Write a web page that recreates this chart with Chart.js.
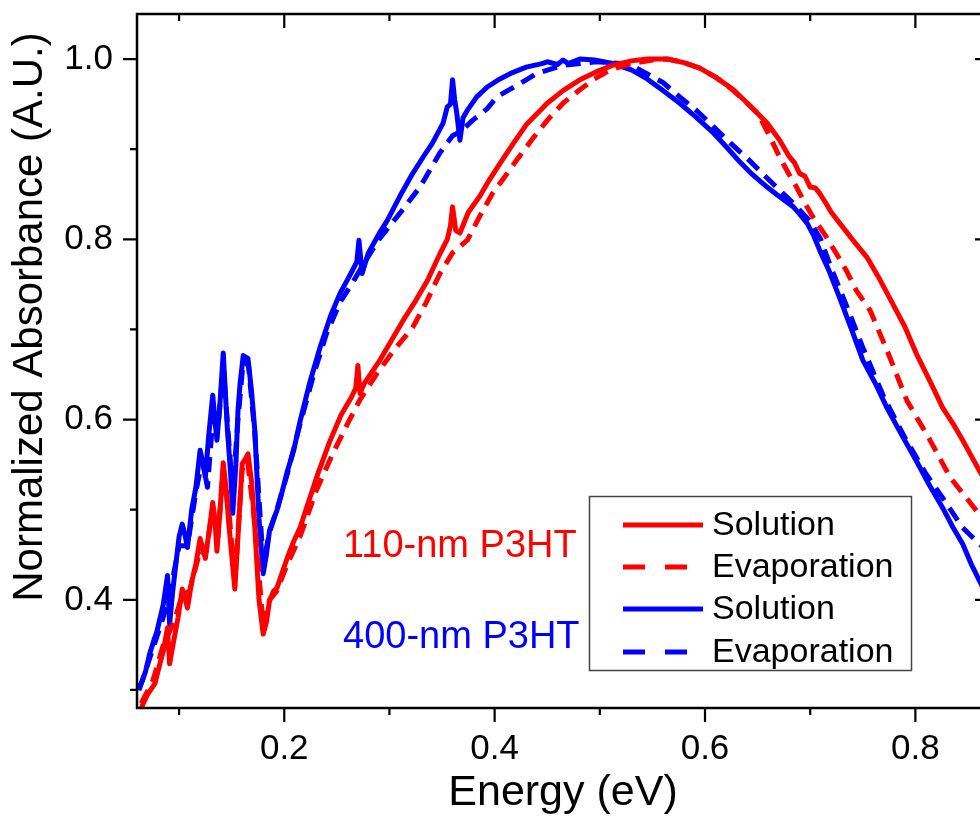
<!DOCTYPE html>
<html><head><meta charset="utf-8">
<script src="https://cdn.jsdelivr.net/npm/chart.js@4.4.1/dist/chart.umd.min.js"></script>
<style>
html,body{margin:0;padding:0;background:#fff;overflow:hidden;width:980px;height:821px;}
#wrap{width:1000px;height:821px;}
canvas{display:block;}
</style></head><body>
<div id="wrap"><canvas id="c" width="1000" height="821"></canvas></div>
<script>
// ---- data ----
const energy110Sol = [0.064,0.070,0.077,0.082,0.085,0.089,0.091,0.095,0.099,0.103,0.106,0.108,0.112,0.116,0.120,0.123,0.125,0.129,0.132,0.134,0.136,0.139,0.142,0.145,0.147,0.150,0.153,0.156,0.160,0.163,0.1655,0.169,0.172,0.176,0.180,0.183,0.186,0.190,0.193,0.198,0.203,0.209,0.215,0.222,0.232,0.243,0.254,0.264,0.268,0.270,0.272,0.276,0.283,0.291,0.302,0.313,0.325,0.336,0.348,0.355,0.358,0.360,0.363,0.367,0.375,0.386,0.395,0.405,0.417,0.430,0.450,0.465,0.481,0.497,0.512,0.530,0.545,0.564,0.580,0.595,0.610,0.627,0.643,0.659,0.671,0.680,0.685,0.690,0.695,0.700,0.705,0.709,0.715,0.720,0.728,0.740,0.754,0.765,0.776,0.790,0.801,0.815,0.826,0.836,0.845,0.853,0.861,0.870];
const abs110Sol = [0.280,0.295,0.307,0.330,0.343,0.369,0.329,0.355,0.380,0.412,0.400,0.391,0.420,0.440,0.468,0.455,0.446,0.480,0.508,0.490,0.454,0.500,0.552,0.520,0.488,0.450,0.412,0.470,0.551,0.556,0.562,0.530,0.480,0.400,0.362,0.375,0.399,0.410,0.413,0.430,0.447,0.465,0.480,0.505,0.540,0.575,0.605,0.625,0.635,0.660,0.629,0.640,0.652,0.666,0.688,0.710,0.732,0.754,0.784,0.800,0.815,0.836,0.810,0.807,0.830,0.848,0.866,0.884,0.905,0.927,0.951,0.965,0.977,0.986,0.993,0.998,1.000,1.000,0.996,0.990,0.980,0.966,0.948,0.929,0.910,0.892,0.885,0.873,0.870,0.858,0.857,0.851,0.840,0.830,0.818,0.800,0.780,0.758,0.734,0.703,0.673,0.640,0.613,0.595,0.577,0.560,0.543,0.525];

const energy110Evap = [0.064,0.075,0.085,0.095,0.103,0.110,0.120,0.125,0.132,0.137,0.142,0.148,0.153,0.160,0.165,0.172,0.180,0.186,0.193,0.203,0.215,0.230,0.246,0.260,0.272,0.288,0.305,0.322,0.335,0.348,0.360,0.374,0.386,0.398,0.410,0.421,0.435,0.450,0.465,0.481,0.495,0.510,0.530,0.550,0.565,0.580,0.595,0.610,0.625,0.640,0.650,0.660,0.671,0.680,0.687,0.695,0.703,0.714,0.725,0.735,0.744,0.757,0.773,0.792,0.814,0.833,0.858,0.870];
const abs110Evap = [0.285,0.310,0.350,0.375,0.405,0.410,0.455,0.450,0.500,0.470,0.545,0.490,0.420,0.545,0.555,0.485,0.370,0.400,0.410,0.440,0.470,0.520,0.562,0.595,0.622,0.651,0.678,0.702,0.730,0.762,0.785,0.799,0.826,0.851,0.870,0.888,0.910,0.932,0.951,0.966,0.978,0.988,0.995,0.999,1.000,0.996,0.990,0.980,0.967,0.951,0.940,0.918,0.891,0.872,0.858,0.840,0.824,0.805,0.784,0.764,0.743,0.721,0.677,0.621,0.577,0.536,0.499,0.483];

const energy400Sol = [0.061,0.065,0.068,0.072,0.076,0.079,0.082,0.085,0.089,0.091,0.094,0.097,0.100,0.103,0.106,0.108,0.112,0.116,0.120,0.123,0.125,0.128,0.132,0.134,0.136,0.139,0.142,0.144,0.146,0.149,0.151,0.154,0.156,0.158,0.161,0.1655,0.169,0.172,0.176,0.180,0.183,0.186,0.190,0.193,0.198,0.203,0.209,0.215,0.224,0.234,0.244,0.253,0.260,0.265,0.269,0.271,0.274,0.280,0.290,0.298,0.310,0.322,0.333,0.341,0.351,0.355,0.358,0.360,0.362,0.364,0.367,0.370,0.374,0.383,0.393,0.405,0.417,0.430,0.445,0.450,0.460,0.465,0.470,0.481,0.495,0.512,0.530,0.545,0.560,0.576,0.592,0.608,0.620,0.633,0.645,0.659,0.670,0.684,0.690,0.697,0.703,0.709,0.718,0.728,0.740,0.750,0.762,0.773,0.787,0.801,0.813,0.826,0.835,0.845,0.853,0.861,0.870];
const abs400Sol = [0.300,0.310,0.320,0.340,0.355,0.365,0.380,0.395,0.427,0.373,0.410,0.440,0.470,0.484,0.470,0.458,0.500,0.525,0.566,0.550,0.536,0.580,0.627,0.600,0.577,0.620,0.674,0.630,0.588,0.540,0.496,0.550,0.610,0.640,0.671,0.668,0.630,0.588,0.490,0.429,0.450,0.477,0.490,0.499,0.520,0.543,0.566,0.598,0.640,0.680,0.715,0.740,0.755,0.766,0.775,0.799,0.762,0.785,0.806,0.821,0.848,0.873,0.893,0.907,0.929,0.947,0.950,0.977,0.955,0.940,0.910,0.935,0.943,0.958,0.969,0.978,0.985,0.991,0.995,0.997,0.994,0.999,0.995,1.000,0.999,0.995,0.988,0.978,0.965,0.951,0.935,0.918,0.903,0.886,0.872,0.858,0.848,0.836,0.828,0.818,0.805,0.788,0.765,0.735,0.698,0.666,0.640,0.613,0.583,0.554,0.528,0.502,0.482,0.462,0.440,0.421,0.400];

const energy400Evap = [0.062,0.072,0.082,0.090,0.100,0.108,0.116,0.122,0.127,0.132,0.137,0.142,0.147,0.151,0.156,0.161,0.166,0.172,0.180,0.186,0.193,0.203,0.215,0.228,0.240,0.253,0.265,0.275,0.290,0.310,0.329,0.348,0.360,0.368,0.379,0.393,0.402,0.417,0.430,0.440,0.465,0.497,0.520,0.535,0.560,0.576,0.592,0.608,0.624,0.640,0.659,0.684,0.700,0.710,0.720,0.735,0.750,0.770,0.790,0.810,0.826,0.845,0.861,0.870];
const abs400Evap = [0.300,0.335,0.370,0.400,0.460,0.460,0.520,0.555,0.525,0.600,0.590,0.660,0.580,0.520,0.600,0.665,0.660,0.585,0.440,0.475,0.500,0.540,0.595,0.650,0.695,0.730,0.752,0.772,0.800,0.829,0.858,0.896,0.915,0.920,0.932,0.945,0.958,0.968,0.977,0.984,0.993,0.997,0.995,0.990,0.974,0.958,0.943,0.925,0.907,0.890,0.868,0.840,0.820,0.800,0.768,0.725,0.680,0.625,0.580,0.540,0.513,0.480,0.462,0.452];

const seriesNames = ['Solution', 'Evaporation', 'Solution', 'Evaporation'];
const sampleNames = ['110-nm P3HT', '400-nm P3HT'];
const xTickValues = [0.1, 0.2, 0.3, 0.4, 0.5, 0.6, 0.7, 0.8];
const xTickLabels = ['', '0.2', '', '0.4', '', '0.6', '', '0.8'];
const yTickValues = [0.3, 0.4, 0.5, 0.6, 0.7, 0.8, 0.9, 1.0];
const yTickLabels = ['', '0.4', '', '0.6', '', '0.8', '', '1.0'];
const xTitle = 'Energy (eV)';
const yTitle = 'Normalized Absorbance (A.U.)';

// ---- chart ----
const FONT = '"Liberation Sans", Arial, Helvetica, sans-serif';
const RED = '#ff0000', BLUE = '#0000ff';
const pairs = (xs, ys) => xs.map((x, i) => ({x: x, y: ys[i]}));
function ds(label, xs, ys, color, dashed) {
  return {label: label, data: pairs(xs, ys), showLine: true, borderColor: color, backgroundColor: color,
    borderWidth: 5, borderDash: dashed ? [15, 9] : [], pointRadius: 0, pointHoverRadius: 0,
    tension: 0, fill: false, borderJoinStyle: 'round', borderCapStyle: 'butt'};
}

const framePlugin = {
  id: 'frame',
  afterDatasetsDraw(chart) {
    const ctx = chart.ctx, a = chart.chartArea;
    const xs = chart.scales.x, ys = chart.scales.y;
    ctx.save();
    ctx.strokeStyle = '#000';
    ctx.lineWidth = 2.5;
    ctx.strokeRect(a.left, a.top, a.right - a.left, a.bottom - a.top);
    ctx.lineWidth = 2.2;
    ctx.beginPath();
    xTickValues.forEach((v, i) => {
      const p = xs.getPixelForValue(v);
      const len = xTickLabels[i] ? 14 : 7;
      ctx.moveTo(p, a.bottom); ctx.lineTo(p, a.bottom + len);
      ctx.moveTo(p, a.top); ctx.lineTo(p, a.top + len);
    });
    yTickValues.forEach((v, i) => {
      const p = ys.getPixelForValue(v);
      const len = yTickLabels[i] ? 14 : 7;
      ctx.moveTo(a.left - len, p); ctx.lineTo(a.left, p);
      ctx.moveTo(a.right - len, p); ctx.lineTo(a.right, p);
    });
    ctx.stroke();

    // y-axis title
    ctx.save();
    ctx.translate(30, 317);
    ctx.rotate(-Math.PI / 2);
    ctx.fillStyle = '#000';
    ctx.font = '42px ' + FONT;
    ctx.textAlign = 'center';
    ctx.textBaseline = 'middle';
    ctx.fillText(yTitle, 0, 0);
    ctx.restore();

    // sample labels
    ctx.font = '38px ' + FONT;
    ctx.textAlign = 'left';
    ctx.textBaseline = 'alphabetic';
    ctx.fillStyle = RED;
    ctx.fillText(sampleNames[0], 343, 557);
    ctx.fillStyle = BLUE;
    ctx.fillText(sampleNames[1], 343, 648);

    // legend box
    ctx.fillStyle = '#fff';
    ctx.fillRect(589, 496, 323, 175);
    ctx.strokeStyle = '#444';
    ctx.lineWidth = 1.5;
    ctx.strokeRect(589.5, 496.5, 322, 174);
    const rows = [525, 567, 609, 652];
    chart.data.datasets.forEach((d, i) => {
      ctx.beginPath();
      ctx.strokeStyle = d.borderColor;
      ctx.lineWidth = 5;
      ctx.setLineDash(d.borderDash.length ? [22, 20] : []);
      ctx.moveTo(623, rows[i]); ctx.lineTo(703, rows[i]);
      ctx.stroke();
      ctx.setLineDash([]);
      ctx.fillStyle = '#000';
      ctx.font = '34px ' + FONT;
      ctx.textBaseline = 'middle';
      ctx.fillText(d.label, 712, rows[i] + 1);
    });
    ctx.restore();
  }
};

new Chart(document.getElementById('c'), {
  type: 'scatter',
  data: {
    datasets: [
      ds(seriesNames[0], energy110Sol, abs110Sol, RED, false),
      ds(seriesNames[1], energy110Evap, abs110Evap, RED, true),
      ds(seriesNames[2], energy400Sol, abs400Sol, BLUE, false),
      ds(seriesNames[3], energy400Evap, abs400Evap, BLUE, true)
    ]
  },
  options: {
    responsive: false,
    animation: false,
    devicePixelRatio: 1,
    layout: {padding: {top: 14, right: 11, left: 0, bottom: 0}},
    plugins: {legend: {display: false}, tooltip: {enabled: false}},
    scales: {
      x: {
        type: 'linear', position: 'bottom', min: 0.06, max: 0.87,
        afterBuildTicks: s => { s.ticks = xTickValues.map(v => ({value: v})); },
        afterFit: s => { s.height = 113; s.paddingLeft = 0; s.paddingRight = 0; },
        grid: {display: false, drawTicks: false},
        border: {display: false},
        ticks: {
          autoSkip: false, maxRotation: 0, padding: 20, color: '#000',
          font: {family: FONT, size: 35},
          callback: (v) => { const i = xTickValues.findIndex(t => Math.abs(t - v) < 1e-6); return i >= 0 ? xTickLabels[i] : ''; }
        },
        title: {display: true, text: xTitle, color: '#000', font: {family: FONT, size: 43}, padding: {top: 0, bottom: 2}}
      },
      y: {
        type: 'linear', position: 'left', min: 0.28, max: 1.05,
        afterBuildTicks: s => { s.ticks = yTickValues.map(v => ({value: v})); },
        afterFit: s => { s.width = 137; s.paddingTop = 0; s.paddingBottom = 0; },
        grid: {display: false, drawTicks: false},
        border: {display: false},
        ticks: {
          autoSkip: false, padding: 24, color: '#000',
          font: {family: FONT, size: 35},
          callback: (v) => { const i = yTickValues.findIndex(t => Math.abs(t - v) < 1e-6); return i >= 0 ? yTickLabels[i] : ''; }
        }
      }
    }
  },
  plugins: [framePlugin]
});
</script>
</body></html>
